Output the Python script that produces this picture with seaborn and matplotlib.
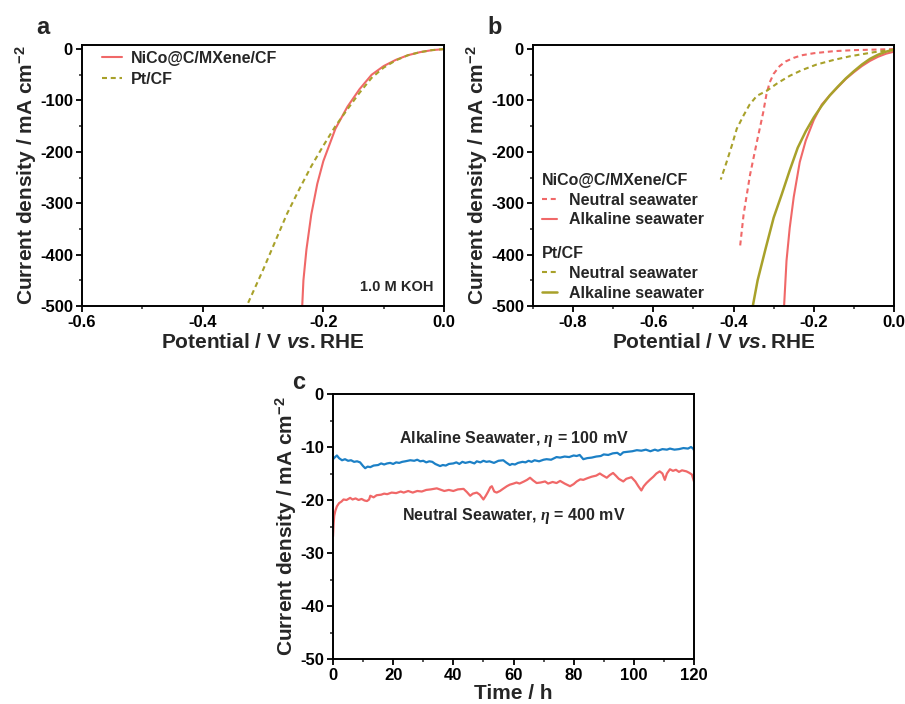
import numpy as np
import pandas as pd
import matplotlib
matplotlib.use("Agg")
import matplotlib.pyplot as plt
from matplotlib.ticker import AutoMinorLocator
from matplotlib.lines import Line2D
import seaborn as sns

sns.set_theme(style="ticks")
plt.rcParams['font.family'] = ['Liberation Sans', 'DejaVu Sans']
plt.rcParams['font.weight'] = 'bold'
plt.rcParams['axes.labelweight'] = 'bold'
plt.rcParams['axes.unicode_minus'] = False
plt.rcParams['mathtext.fontset'] = 'custom'
plt.rcParams['mathtext.rm'] = 'Liberation Sans:bold'
plt.rcParams['mathtext.bf'] = 'Liberation Sans:bold'
plt.rcParams['mathtext.it'] = 'Liberation Sans:bold:italic'
plt.rcParams['mathtext.cal'] = 'Liberation Serif:italic'

RED = "#F06868"
OLIVE = "#A8A12A"
BLUE = "#1C80C6"
DASH = (0, (2.4, 1.8))

# ---- Panel a (1.0 M KOH) ----
a_nico_v = [0.0, -0.02, -0.04, -0.06, -0.08, -0.10, -0.12, -0.14, -0.16, -0.18, -0.20, -0.21, -0.22, -0.228, -0.233, -0.235]
a_nico_j = [0, -2, -6, -12, -21, -33, -50, -78, -112, -155, -218, -262, -322, -390, -450, -500]
a_pt_v = [0.0, -0.02, -0.04, -0.06, -0.08, -0.10, -0.12, -0.14, -0.16, -0.18, -0.20, -0.22, -0.24, -0.26, -0.28, -0.30, -0.327]
a_pt_j = [0, -2, -6, -12, -22, -36, -56, -85, -117, -150, -188, -228, -273, -320, -375, -430, -500]

# ---- Panel b (seawater) ----
b_nico_neu_v = [0.0, -0.05, -0.10, -0.15, -0.20, -0.23, -0.25, -0.27, -0.285, -0.30, -0.31, -0.318, -0.326, -0.342, -0.359, -0.375, -0.384]
b_nico_neu_j = [0, -1, -2, -4, -8, -12, -17, -24, -33, -48, -65, -88, -123, -181, -245, -322, -386]
b_pt_neu_v = [0.0, -0.05, -0.11, -0.15, -0.193, -0.23, -0.26, -0.29, -0.317, -0.342, -0.36, -0.375, -0.392, -0.404, -0.417, -0.432]
b_pt_neu_j = [-1, -6, -14, -21, -30, -41, -52, -66, -81, -91, -108, -129, -155, -187, -219, -254]
b_nico_alk_v = [0.0, -0.02, -0.04, -0.06, -0.08, -0.10, -0.12, -0.14, -0.16, -0.18, -0.20, -0.22, -0.235, -0.25, -0.26, -0.268, -0.274]
b_nico_alk_j = [-5, -9, -15, -23, -33, -45, -58, -74, -90, -108, -138, -178, -220, -288, -348, -412, -500]
b_pt_alk_v = [0.0, -0.02, -0.04, -0.06, -0.08, -0.10, -0.12, -0.14, -0.16, -0.18, -0.20, -0.22, -0.24, -0.26, -0.28, -0.30, -0.32, -0.34, -0.352]
b_pt_alk_j = [-1, -5, -11, -19, -30, -43, -57, -73, -90, -110, -133, -160, -192, -236, -283, -328, -388, -450, -500]

# ---- Panel c (stability) ----
c_alk_t = [0, 0.5, 1.3, 2, 3, 4, 5, 6, 7, 8, 9, 10, 10.7, 11.5, 12.4, 13.5, 15, 16, 17, 18, 19, 20, 21, 22, 23, 24,
           25.7, 27, 28, 29, 30, 31, 32, 33, 34, 35.6, 36.5, 37.5, 38.5, 40, 41, 42, 43, 44, 45.5, 47, 47.8, 49, 50,
           51, 52, 53.5, 55, 56.6, 57.5, 58.8, 59.5, 60.5, 61.5, 63, 64, 65, 66, 67, 68.5, 70, 71, 72.5, 74.3, 75.5,
           77, 78.5, 80, 81, 82, 83.2, 84.5, 86, 87.5, 89, 90, 91.5, 93, 94.5, 95.5, 96.5, 98, 99.5, 101, 102.5,
           104, 105.5, 107, 108, 109.5, 111, 112, 113.5, 115, 116.5, 118, 119, 119.7, 120]
c_alk_j = [-12.3, -12.0, -11.6, -12.1, -12.5, -12.3, -12.6, -12.5, -12.8, -12.7, -12.9, -13.6, -14.0, -13.7, -13.8,
           -13.5, -13.4, -13.1, -13.3, -13.1, -13.0, -13.2, -12.9, -13.0, -12.8, -12.7, -12.5, -12.6, -12.4, -12.7,
           -12.6, -12.9, -12.7, -12.8, -13.2, -13.6, -13.4, -13.5, -13.2, -13.1, -12.9, -13.2, -12.8, -13.0, -12.8,
           -13.1, -12.7, -12.9, -12.6, -12.8, -12.7, -13.0, -12.6, -12.5, -12.9, -13.4, -13.2, -13.3, -13.0, -12.8,
           -12.9, -12.6, -12.8, -12.5, -12.7, -12.4, -12.3, -12.4, -11.9, -12.0, -11.8, -11.9, -11.6, -11.7, -11.5,
           -12.3, -12.1, -12.0, -11.8, -11.7, -11.4, -11.5, -11.2, -11.1, -11.5, -11.0, -10.9, -10.8, -10.6, -10.7,
           -10.5, -10.8, -10.5, -10.7, -10.4, -10.5, -10.3, -10.5, -10.4, -10.2, -10.3, -10.0, -10.3, -10.6]
c_neu_t = [0, 0.2, 0.4, 0.8, 1.3, 2, 2.8, 3.5, 4.5, 5.7, 6.5, 7.5, 8.5, 9.5, 10.5, 11.3, 12, 12.4, 13.5, 14.5, 16,
           17, 18, 19.5, 21, 22.5, 23.5, 25, 26.5, 28, 29.5, 31, 32.5, 34.5, 35.5, 37, 38.5, 40, 41.5, 43.4, 44.5,
           45.6, 46.5, 47.8, 48.8, 50, 50.8, 51.5, 52.3, 52.8, 53.6, 54.4, 55.5, 56.5, 57.8, 58.8, 60, 61, 62, 63.5,
           64.5, 65.5, 66.5, 67.7, 69, 70.5, 71.5, 73, 74.3, 75.5, 77, 78.8, 80, 81, 82.2, 83.2, 84.5, 86, 87.5,
           88.7, 89.5, 91, 92, 93.1, 94, 95, 96.5, 97.5, 99.2, 100.5, 101.5, 102.5, 103.3, 104.2, 105.3, 106.5,
           107.5, 108.6, 109.5, 110.3, 111, 112, 113, 114, 115, 116, 117.5, 118.5, 119.3, 120]
c_neu_j = [-26.9, -24.5, -23.0, -22.0, -21.2, -20.6, -20.3, -19.9, -20.0, -19.6, -19.9, -19.7, -20.0, -19.8, -20.1,
           -20.2, -19.9, -19.2, -19.5, -19.1, -19.0, -18.8, -18.9, -18.6, -18.7, -18.4, -18.6, -18.3, -18.6, -18.3,
           -18.4, -18.1, -18.0, -17.8, -18.0, -18.3, -18.1, -18.3, -18.0, -17.9, -18.5, -19.2, -18.8, -18.6, -19.0,
           -19.9, -19.2, -18.5, -17.6, -17.4, -18.4, -18.6, -18.3, -17.9, -17.4, -17.1, -16.9, -16.7, -16.9, -16.5,
           -16.2, -15.8, -16.3, -16.8, -16.7, -16.5, -16.9, -16.6, -16.8, -16.4, -16.9, -17.4, -17.0, -16.5, -16.1,
           -16.2, -15.9, -15.6, -15.4, -15.0, -15.3, -15.8, -15.3, -14.9, -15.4, -16.0, -16.5, -16.0, -15.7, -16.5,
           -17.4, -18.2, -17.4, -16.8, -16.2, -15.6, -15.0, -14.6, -15.0, -16.2, -15.0, -14.2, -14.5, -14.3, -14.7,
           -14.4, -14.6, -14.9, -15.2, -16.5]

fig = plt.figure(figsize=(9.05, 7.04), dpi=100)
W, H = 905, 704

def add_ax(l, t, r, b):
    return fig.add_axes([l / W, 1 - b / H, (r - l) / W, (b - t) / H])

axa = add_ax(82, 45, 444, 306)
axb = add_ax(533, 45, 894, 306)
axc = add_ax(333, 394, 694, 659)

def style(ax):
    for s in ax.spines.values():
        s.set_linewidth(1.4)
        s.set_color("black")
    ax.xaxis.set_minor_locator(AutoMinorLocator(2))
    ax.yaxis.set_minor_locator(AutoMinorLocator(2))
    ax.tick_params(which='major', direction='out', length=4, width=1.3, labelsize=12, pad=2.5,
                   top=False, right=False, colors='black')
    ax.tick_params(which='minor', direction='out', length=2.5, width=1.1, top=False, right=False)
    for lab in ax.get_xticklabels() + ax.get_yticklabels():
        lab.set_fontweight('bold')

def line(ax, x, y, color, ls, label=None, lw=1.5):
    df = pd.DataFrame({"x": x, "y": y})
    sns.lineplot(data=df, x="x", y="y", ax=ax, color=color, linestyle=ls, lw=lw,
                 sort=False, estimator=None, label=label, legend=False)

ylab = "Current density / mA cm$^{-2}$"
xlab = "Potential / V $\\mathit{vs.}$RHE"
LAB = 15
LEGP = {'weight': 'bold', 'size': 11.5}

# Panel a
line(axa, a_nico_v, a_nico_j, RED, "-", "NiCo@C/MXene/CF")
line(axa, a_pt_v, a_pt_j, OLIVE, DASH, "Pt/CF")
axa.set_xlim(-0.6, 0.0)
axa.set_ylim(-500, 8)
axa.set_xticks([-0.6, -0.4, -0.2, 0.0])
axa.set_xticklabels(["-0.6", "-0.4", "-0.2", "0.0"])
axa.set_yticks([0, -100, -200, -300, -400, -500])
axa.set_xlabel(xlab, fontsize=LAB, labelpad=2)
axa.set_ylabel(ylab, fontsize=LAB, labelpad=1)
style(axa)
axa.legend(loc="upper left", frameon=False, prop=LEGP, handlelength=1.25, handletextpad=0.5,
           borderaxespad=0.2, labelspacing=0.38, bbox_to_anchor=(0.03, 1.015))
axa.text(0.97, 0.045, "1.0 M KOH", transform=axa.transAxes, ha="right", va="bottom",
         fontsize=10.5, fontweight="bold")
axa.text(-0.125, 1.11, "a", transform=axa.transAxes, fontsize=17, fontweight="bold", va="top")

# Panel b
line(axb, b_nico_neu_v, b_nico_neu_j, RED, DASH)
line(axb, b_nico_alk_v, b_nico_alk_j, RED, "-")
line(axb, b_pt_neu_v, b_pt_neu_j, OLIVE, DASH)
line(axb, b_pt_alk_v, b_pt_alk_j, OLIVE, "-", lw=1.8)
axb.set_xlim(-0.9, 0.0)
axb.set_ylim(-500, 8)
axb.set_xticks([-0.8, -0.6, -0.4, -0.2, 0.0])
axb.set_xticklabels(["-0.8", "-0.6", "-0.4", "-0.2", "0.0"])
axb.set_yticks([0, -100, -200, -300, -400, -500])
axb.set_xlabel(xlab, fontsize=LAB, labelpad=2)
axb.set_ylabel(ylab, fontsize=LAB, labelpad=1)
style(axb)
h1 = [Line2D([], [], color=RED, ls=DASH, lw=1.5), Line2D([], [], color=RED, ls="-", lw=1.5)]
h2 = [Line2D([], [], color=OLIVE, ls=DASH, lw=1.5), Line2D([], [], color=OLIVE, ls="-", lw=1.8)]
leg1 = axb.legend(h1, ["Neutral seawater", "Alkaline seawater"], title="NiCo@C/MXene/CF",
                  loc="upper left", bbox_to_anchor=(-0.015, 0.565), frameon=False,
                  prop=LEGP, handlelength=0.95, handletextpad=0.75, labelspacing=0.3,
                  title_fontproperties=LEGP)
leg1._legend_box.align = "left"
axb.add_artist(leg1)
leg2 = axb.legend(h2, ["Neutral seawater", "Alkaline seawater"], title="Pt/CF",
                  loc="upper left", bbox_to_anchor=(-0.015, 0.285), frameon=False,
                  prop=LEGP, handlelength=0.95, handletextpad=0.75, labelspacing=0.3,
                  title_fontproperties=LEGP)
leg2._legend_box.align = "left"
axb.text(-0.125, 1.11, "b", transform=axb.transAxes, fontsize=17, fontweight="bold", va="top")

# Panel c
line(axc, c_alk_t, c_alk_j, BLUE, "-", lw=1.6)
line(axc, c_neu_t, c_neu_j, RED, "-", lw=1.6)
axc.set_xlim(0, 120)
axc.set_ylim(-50, 0)
axc.set_xticks([0, 20, 40, 60, 80, 100, 120])
axc.set_yticks([0, -10, -20, -30, -40, -50])
axc.set_xlabel("Time / h", fontsize=LAB, labelpad=1)
axc.set_ylabel(ylab, fontsize=LAB, labelpad=1)
style(axc)
axc.text(60, -8.4, "Alkaline Seawater, $\\mathcal{\\eta}$ = 100 mV", ha="center", va="center",
         fontsize=11.5, fontweight="bold")
axc.text(60, -23.1, "Neutral Seawater, $\\mathcal{\\eta}$ = 400 mV", ha="center", va="center",
         fontsize=11.5, fontweight="bold")
axc.text(-0.112, 1.085, "c", transform=axc.transAxes, fontsize=17, fontweight="bold", va="top")

fig.savefig("out.png", dpi=100)
